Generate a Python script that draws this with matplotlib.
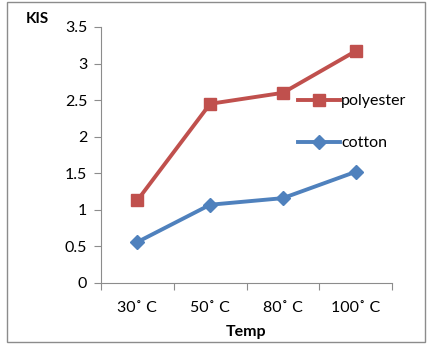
import matplotlib
matplotlib.use("Agg")
import matplotlib.pyplot as plt
from matplotlib.patches import Rectangle

temps = ["30\u02da C", "50\u02da C", "80\u02da C", "100\u02da C"]
polyester = [1.13, 2.45, 2.60, 3.17]
cotton = [0.56, 1.07, 1.16, 1.52]

plt.rcParams['font.family'] = ['Lato', 'DejaVu Sans']

fig = plt.figure(figsize=(4.29, 3.44), dpi=100)
# outer chart border
fig.patches.append(Rectangle((7/429, 1 - 342/344), 418/429, 340/344,
                             transform=fig.transFigure, fill=False,
                             edgecolor="#8c8c8c", lw=1.0))

ax = fig.add_axes([101/429, 1 - 283/344, 291/429, 256/344])
x = range(len(temps))
ax.plot(x, polyester, color="#C0504D", lw=2.8, marker="s", ms=9, label="polyester")
ax.plot(x, cotton, color="#4F81BD", lw=2.8, marker="D", ms=7, label="cotton")

ax.set_xlim(-0.5, 3.5)
ax.set_ylim(0, 3.5)
ax.set_yticks([0, 0.5, 1, 1.5, 2, 2.5, 3, 3.5])
ax.set_yticklabels(["0", "0.5", "1", "1.5", "2", "2.5", "3", "3.5"])
ax.set_xticks([-0.5, 0.5, 1.5, 2.5, 3.5], minor=False)
ax.set_xticklabels([])
ax.set_xticks(list(x), minor=True)
ax.set_xticklabels(temps, minor=True)
ax.tick_params(axis="x", which="minor", length=0, pad=13, labelsize=11.5)
ax.tick_params(axis="x", which="major", length=5, color="#8c8c8c", direction="out")
ax.tick_params(axis="y", length=5, color="#8c8c8c", direction="out", pad=5, labelsize=11.5)

for s in ["top", "right"]:
    ax.spines[s].set_visible(False)
for s in ["left", "bottom"]:
    ax.spines[s].set_color("#8c8c8c")

fig.text(37/429, 1 - 19/344, "KIS", ha="center", va="center", fontsize=11, fontweight="bold")
fig.text(246/429, 1 - 332/344, "Temp", ha="center", va="center", fontsize=11.5, fontweight="bold")

ax.legend(loc="upper left", bbox_to_anchor=(0.677, 0.738), frameon=False,
          handlelength=2.6, labelspacing=1.75, fontsize=11.5, handletextpad=0.1,
          borderaxespad=0, borderpad=0)

fig.savefig("out.png", dpi=100)
